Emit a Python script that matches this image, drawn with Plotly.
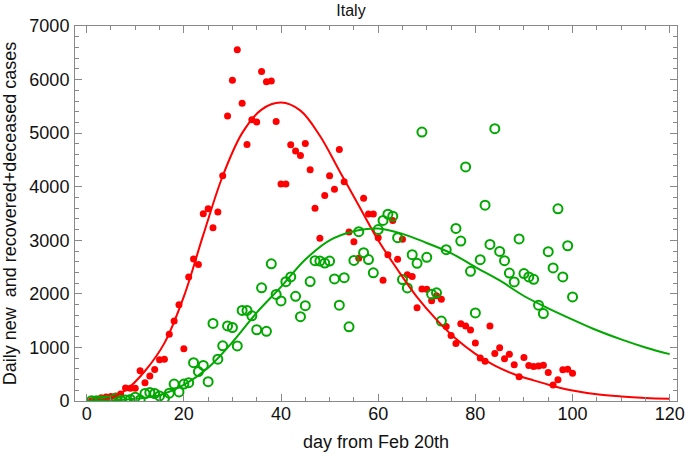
import plotly.graph_objects as go

# ---- data ----
days = list(range(1, 101))
new_cases = [3, 17, 62, 73, 85, 93, 131, 245, 238, 240,
             566, 342, 466, 587, 769, 778, 1247, 1492, 1797, 977,
             2313, 2651, 2547, 3497, 3590, 3233, 3526, 4207, 5322, 5986,
             6557, 5560, 4789, 5249, 5210, 6153, 5959, 5974, 5217, 4050,
             4053, 4782, 4668, 4585, 4805, 4316, 3599, 3039, 3836, 4204,
             3951, 4694, 4092, 3153, 2972, 2667, 3786, 3493, 3491, 3047,
             2256, 2729, 3370, 2646, 3021, 2357, 2324, 1739, 2091, 2086,
             1872, 1965, 1900, 1389, 1221, 1075, 1444, 1401, 1327, 1083,
             802, 744, 1402, 888, 992, 789, 875, 675, 451, 813,
             665, 642, 652, 669, 531, 300, 397, 584, 593, 516]

rec_days = [d for d in range(1, 101) if d != 75]
rec_dec = [5, 5, 5, 5, 10, 45, 15, 20, 30, 70,
           20, 140, 160, 140, 95, 50, 145, 316, 170, 316,
           341, 715, 550, 665, 360, 1447, 780, 1030, 1402, 1372,
           1027, 1690, 1690, 1590, 1330, 2113, 1300, 2560, 1990, 1868,
           2228, 2315, 1955, 1575, 1780, 2230, 2620, 2613, 2575, 2613,
           2278, 1788, 2303, 1384, 2625, 3160, 2769, 2640, 2392, 3200,
           3370, 3488, 3451, 3048, 2266, 2110, 2732, 2570, 5020, 2682,
           1995, 2020, 1492, 2825, 3222, 2985, 4370, 2420, 1644,
           2638, 3656, 2923, 5083, 2793, 2620, 2389, 2222, 3025, 2378,
           2315, 2272, 1788, 1633, 2788, 2485, 3588, 2315, 2898, 1943]

fit_days = [0, 4, 8, 12, 16, 20, 24, 28, 32, 36, 40, 44, 48, 52, 56, 60,
            64, 68, 72, 76, 80, 84, 88, 92, 96, 100, 105, 110, 115, 120]
fit_new = [0, 30, 200, 560, 1080, 1950, 3100, 4200, 5000, 5440, 5570, 5420,
           4950, 4300, 3650, 3000, 2450, 1940, 1520, 1160, 880, 660, 500, 385,
           280, 195, 125, 85, 58, 43]

fit_days2 = [0, 5, 10, 15, 20, 25, 30, 35, 40, 45, 50, 55, 60, 65, 70, 75,
             80, 85, 90, 95, 100, 105, 110, 115, 120]
fit_rec = [0, 10, 40, 110, 300, 620, 1100, 1650, 2130, 2640, 3000, 3170, 3220,
           3120, 2950, 2760, 2500, 2250, 1960, 1730, 1520, 1320, 1150, 1000, 875]

x_ticks = [0, 20, 40, 60, 80, 100, 120]
y_ticks = [0, 1000, 2000, 3000, 4000, 5000, 6000, 7000]

RED = "#ff0000"
GREEN = "rgb(0,168,0)"
FONT = "Liberation Sans, Arial, sans-serif"
TXT = "#111111"

fig = go.Figure()
fig.add_trace(go.Scatter(x=days, y=new_cases, mode="markers",
                         marker=dict(color=RED, size=7, line=dict(width=0)),
                         showlegend=False))
fig.add_trace(go.Scatter(x=rec_days, y=rec_dec, mode="markers",
                         marker=dict(symbol="circle-open", color=GREEN, size=9,
                                     line=dict(width=2, color=GREEN)),
                         showlegend=False))
fig.add_trace(go.Scatter(x=fit_days, y=fit_new, mode="lines",
                         line=dict(color=RED, width=2, shape="spline", smoothing=1.0),
                         showlegend=False))
fig.add_trace(go.Scatter(x=fit_days2, y=fit_rec, mode="lines",
                         line=dict(color=GREEN, width=2, shape="spline", smoothing=1.0),
                         showlegend=False))

axis_common = dict(
    automargin=False,
    showgrid=False, zeroline=False, showline=True, linecolor="#888888",
    linewidth=1, mirror="ticks", ticks="inside", tickcolor="#888888",
    ticklen=7, tickwidth=1,
    tickfont=dict(family=FONT, size=18, color=TXT),
)

fig.update_layout(
    width=685, height=458,
    margin=dict(l=75, r=8, t=26, b=57, autoexpand=False),
    paper_bgcolor="white", plot_bgcolor="white",
    title=dict(text="Italy", x=351 / 685, xanchor="center",
               y=1 - 10 / 458, yanchor="middle",
               font=dict(family=FONT, size=16, color=TXT)),
    xaxis=dict(range=[-2.4, 121.5], tickvals=x_ticks, ticklabelstandoff=-4,
               minor=dict(dtick=5, tick0=0, ticks="inside", ticklen=4,
                          tickcolor="#888888", showgrid=False),
               title=dict(text="day from Feb 20th", standoff=12,
                          font=dict(family=FONT, size=18, color=TXT)),
               **axis_common),
    yaxis=dict(range=[0, 7000], tickvals=y_ticks, ticklabelstandoff=1,
               minor=dict(dtick=200, tick0=0, ticks="inside", ticklen=4,
                          tickcolor="#888888", showgrid=False),
               title=dict(text="Daily new  and recovered+deceased cases", standoff=9,
                          font=dict(family=FONT, size=18, color=TXT)),
               **axis_common),
)

fig.write_html("out.html",
               config={"displayModeBar": False},
               post_script="document.body.style.margin='0';document.body.style.overflow='hidden';")
